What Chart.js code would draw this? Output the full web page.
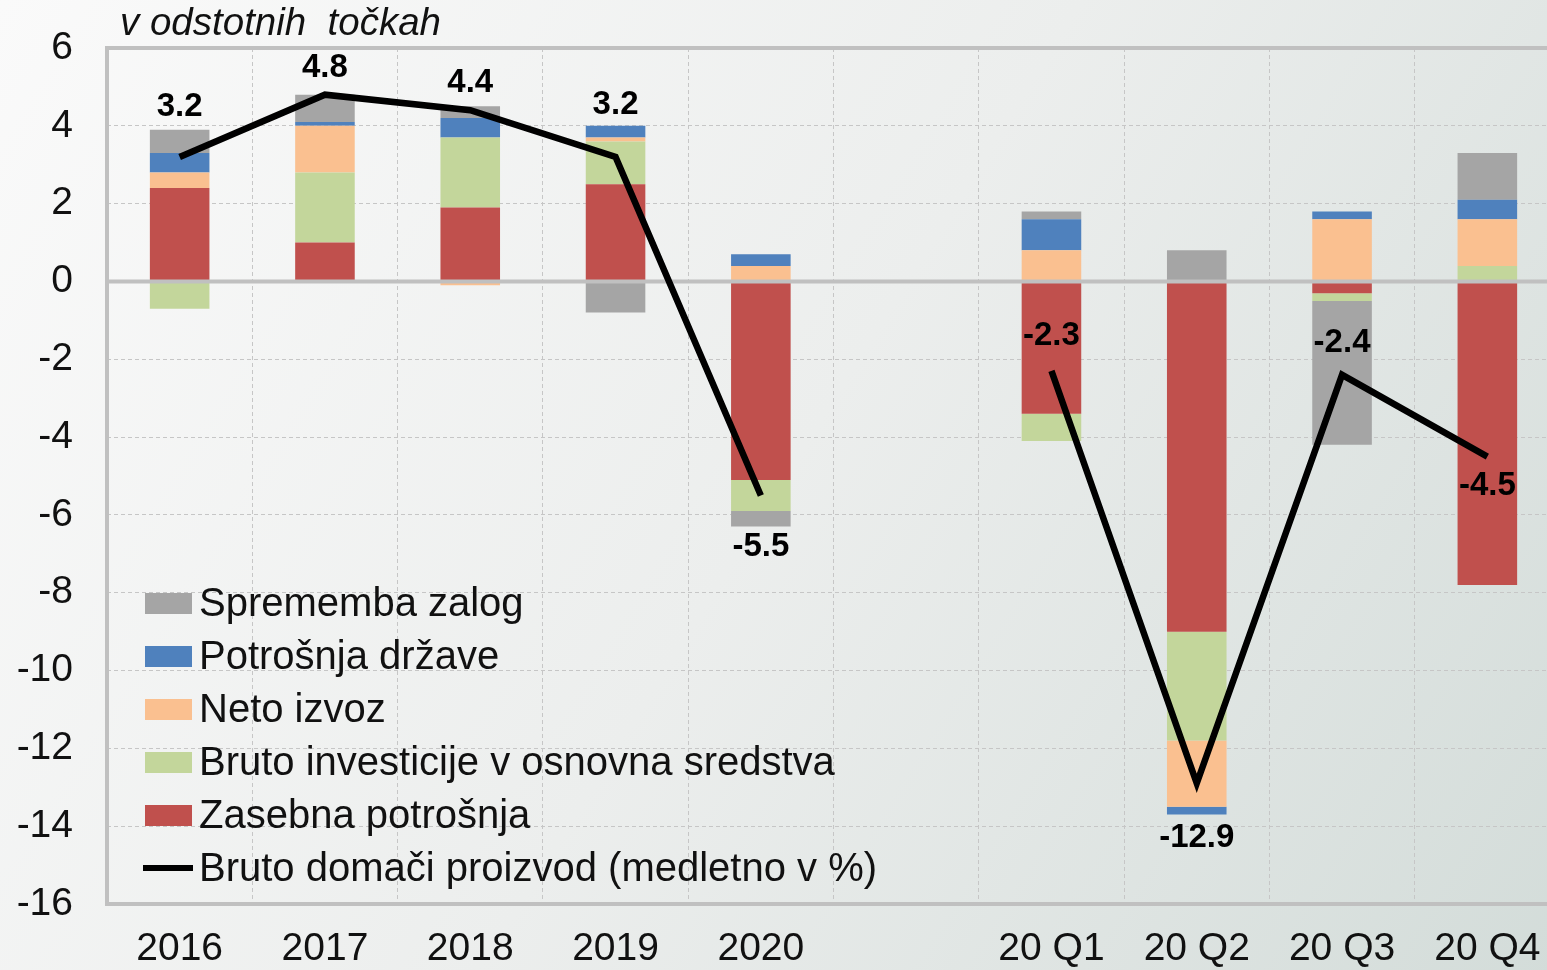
<!DOCTYPE html>
<html>
<head>
<meta charset="utf-8">
<title>Prispevki k rasti BDP</title>
<script src="https://cdn.jsdelivr.net/npm/chart.js@4/dist/chart.umd.min.js"></script>
<style>
  html, body { margin: 0; padding: 0; overflow: hidden; background: #eceeed; }
  #okno { width: 1547px; height: 970px; overflow: hidden; position: relative; }
  canvas { display: block; }
</style>
</head>
<body>
<div id="okno"><canvas id="graf" width="1560" height="970"></canvas></div>
<script>
// podatki (odstotne točke)
const kategorije = ['2016', '2017', '2018', '2019', '2020', '', '20 Q1', '20 Q2', '20 Q3', '20 Q4'];
const zasebnaPotrosnja = [2.4, 1.0, 1.9, 2.5, -5.1, null, -3.4, -9.0, -0.3, -7.8];
const brutoInvesticije = [-0.7, 1.8, 1.8, 1.1, -0.8, null, -0.7, -2.8, -0.2, 0.4];
const netoIzvoz = [0.4, 1.2, -0.1, 0.1, 0.4, null, 0.8, -1.7, 1.6, 1.2];
const potrosnjaDrzave = [0.5, 0.1, 0.5, 0.3, 0.3, null, 0.8, -0.2, 0.2, 0.5];
const spremembaZalog = [0.6, 0.7, 0.3, -0.8, -0.4, null, 0.2, 0.8, -3.7, 1.2];
const bdp = [3.2, 4.8, 4.4, 3.2, -5.5, null, -2.3, -12.9, -2.4, -4.5];
const yOznake = [6, 4, 2, 0, -2, -4, -6, -8, -10, -12, -14, -16];

const pisava = '"Liberation Sans", Arial, sans-serif';

// zamik oznak BDP glede na točko (px)
const zamikOznak = [-50, -27, -27, -52, 51, 0, -35, 55, -32, 29];

// ozadje s prelivom
const ozadje = {
  id: 'ozadje',
  beforeDraw(chart) {
    const ctx = chart.ctx;
    const g = ctx.createLinearGradient(0, 0, chart.width, chart.height);
    g.addColorStop(0, '#fafafa');
    g.addColorStop(0.5, '#eceeed');
    g.addColorStop(1, '#d3dcd9');
    ctx.save();
    ctx.fillStyle = g;
    ctx.fillRect(0, 0, chart.width, chart.height);
    ctx.restore();
  }
};

// polne sive črte: okvir in ničla (pod črto BDP)
const okvir = {
  id: 'okvir',
  beforeDatasetDraw(chart, args) {
    if (args.index !== 5) return;
    const ctx = chart.ctx;
    const a = chart.chartArea;
    const y = chart.scales.y;
    ctx.save();
    ctx.strokeStyle = '#c0c0c0';
    ctx.lineWidth = 4;
    ctx.beginPath();
    [6, 0, -16].forEach(v => {
      const py = y.getPixelForValue(v);
      ctx.moveTo(a.left - 2, py);
      ctx.lineTo(a.right, py);
    });
    ctx.moveTo(a.left, y.getPixelForValue(6) - 2);
    ctx.lineTo(a.left, y.getPixelForValue(-16) + 2);
    ctx.stroke();
    ctx.restore();
  }
};

// naslov, legenda in vrednosti BDP
const besedila = {
  id: 'besedila',
  afterDraw(chart) {
    const ctx = chart.ctx;
    const a = chart.chartArea;
    ctx.save();

    // naslov osi
    ctx.fillStyle = '#111';
    ctx.font = 'italic 38.5px ' + pisava;
    ctx.textAlign = 'left';
    ctx.textBaseline = 'alphabetic';
    ctx.fillText('v odstotnih  točkah', 120, 35);

    // legenda
    const vrstni = [4, 3, 2, 1, 0, 5];
    ctx.font = '40px ' + pisava;
    ctx.textBaseline = 'middle';
    vrstni.forEach((di, i) => {
      const ds = chart.data.datasets[di];
      const cy = a.top + 555 + i * 53;
      const bx = a.left + 38;
      if (ds.type === 'line') {
        ctx.strokeStyle = ds.borderColor;
        ctx.lineWidth = 6;
        ctx.beginPath();
        ctx.moveTo(bx - 2, cy);
        ctx.lineTo(bx + 48, cy);
        ctx.stroke();
      } else {
        ctx.fillStyle = ds.backgroundColor;
        ctx.fillRect(bx, cy - 10, 47, 21);
      }
      ctx.fillStyle = '#111';
      ctx.fillText(ds.label, bx + 54, cy + 2);
    });

    // vrednosti BDP
    const meta = chart.getDatasetMeta(5);
    ctx.font = 'bold 33px ' + pisava;
    ctx.textAlign = 'center';
    ctx.fillStyle = '#000';
    meta.data.forEach((pt, i) => {
      if (bdp[i] === null) return;
      ctx.fillText(bdp[i].toFixed(1), pt.x, pt.y + zamikOznak[i]);
    });
    ctx.restore();
  }
};

const stolpec = (label, data, barva) => ({
  type: 'bar',
  label: label,
  data: data,
  backgroundColor: barva,
  borderWidth: 0,
  stack: 'prispevki',
  order: 1,
  barPercentage: 0.41,
  categoryPercentage: 1
});

new Chart(document.getElementById('graf'), {
  data: {
    labels: kategorije,
    datasets: [
      stolpec('Zasebna potrošnja', zasebnaPotrosnja, '#c0504d'),
      stolpec('Bruto investicije v osnovna sredstva', brutoInvesticije, '#c3d69b'),
      stolpec('Neto izvoz', netoIzvoz, '#fac090'),
      stolpec('Potrošnja države', potrosnjaDrzave, '#4f81bd'),
      stolpec('Sprememba zalog', spremembaZalog, '#a5a5a5'),
      {
        type: 'line',
        label: 'Bruto domači proizvod (medletno v %)',
        data: bdp,
        borderColor: '#000',
        borderWidth: 6.5,
        pointRadius: 0,
        tension: 0,
        spanGaps: false,
        stack: 'bdp',
        order: 0
      }
    ]
  },
  options: {
    responsive: false,
    animation: false,
    layout: { padding: { top: 48, right: 0, bottom: 0, left: 0 } },
    plugins: {
      legend: { display: false },
      tooltip: { enabled: false }
    },
    scales: {
      x: {
        stacked: true,
        offset: true,
        grid: { color: '#c6c6c6', lineWidth: 1, drawTicks: false, offset: true },
        border: { display: false, dash: [4, 3] },
        ticks: { color: '#111', font: { family: pisava, size: 39 }, padding: 22, maxRotation: 0, autoSkip: false },
        afterFit(s) { s.height = 66; s.paddingLeft = 0; s.paddingRight = 0; }
      },
      y: {
        stacked: true,
        min: -16,
        max: 6,
        afterBuildTicks(s) { s.ticks = yOznake.map(v => ({ value: v })); },
        grid: { color: '#c6c6c6', lineWidth: 1, drawTicks: false },
        border: { display: false, dash: [4, 3] },
        ticks: { color: '#111', font: { family: pisava, size: 39 }, padding: 34 },
        afterFit(s) { s.width = 107; s.paddingTop = 0; s.paddingBottom = 0; }
      }
    }
  },
  plugins: [ozadje, okvir, besedila]
});
</script>
</body>
</html>
